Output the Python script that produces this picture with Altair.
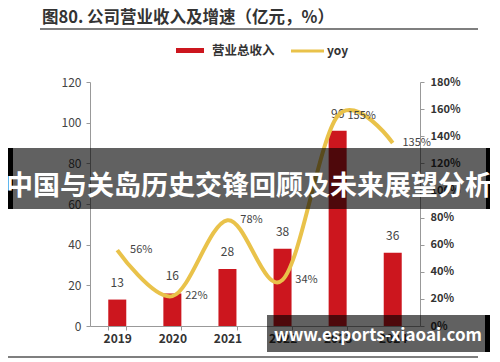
import altair as alt
import pandas as pd

years = ["2019", "2020", "2021", "2022", "2023", "2024"]
revenue = [13, 16, 28, 38, 96, 36]
yoy = [56, 22, 78, 34, 155, 135]

title_text = "图80. 公司营业收入及增速（亿元，%）"
legend_labels = ["营业总收入", "yoy"]
banner_text = "中国与关岛历史交锋回顾及未来展望分析"
watermark_text = "www.esports-xiaoai.com"

RED = "#cc161e"
YEL = "#e9c24a"
FONT = "Noto Sans CJK SC"

df = pd.DataFrame({"year": years, "rev": revenue, "yoy": yoy})
df["yoy_lbl"] = [f"{v}%" for v in yoy]

x_axis = alt.Axis(labelAngle=0, tickBand="extent", labelFont=FONT, labelFontSize=12,
                  labelFontWeight="bold", labelColor="#333", domainColor="#999",
                  tickColor="#999", tickSize=4, labelPadding=3)
x_scale = alt.Scale(paddingInner=0.67, paddingOuter=0.33)
left_axis = alt.Axis(values=[0, 20, 40, 60, 80, 100, 120], grid=False, orient="left",
                     labelFont=FONT, labelFontSize=12, labelColor="#444", labelOverlap=False,
                     domainColor="#999", tickColor="#999", tickSize=4, labelPadding=5)
right_axis = alt.Axis(values=[0, 20, 40, 60, 80, 100, 120, 140, 160, 180], grid=False,
                      orient="right", labelExpr="datum.value + '%'", labelFont=FONT,
                      labelFontSize=11, labelFontWeight="bold", labelColor="#333",
                      labelOverlap=False, domainColor="#999", tickColor="#999",
                      tickSize=4, labelPadding=6)
left_scale = alt.Scale(domain=[0, 120])
right_scale = alt.Scale(domain=[0, 180])

base = alt.Chart(df)
X = alt.X("year:N", title=None, scale=x_scale, axis=x_axis)
YL = alt.Y("rev:Q", title=None, scale=left_scale, axis=left_axis)
YR = alt.Y("yoy:Q", title=None, scale=right_scale, axis=right_axis)

bars = base.mark_bar(color=RED, width=18).encode(x=X, y=YL)
bar_text = base.mark_text(dy=-17, fontSize=12, font=FONT, color="#444").encode(
    x=X, y=YL, text="rev:Q")
left = alt.layer(bars, bar_text)

line = base.mark_line(color=YEL, strokeWidth=4, interpolate="cardinal").encode(x=X, y=YR)
line_text = base.mark_text(dx=24, fontSize=11, font=FONT, color="#444").encode(
    x=X, y=YR, text="yoy_lbl:N")
right = alt.layer(line, line_text)

one = alt.Data(values=[{"a": 1}])

def txt(t, x, y, size, color, weight="normal", align="left", font=FONT):
    return alt.Chart(one).mark_text(text=t, fontSize=size, color=color, fontWeight=weight,
                                    align=align, baseline="middle", font=font).encode(
        x=alt.value(x), y=alt.value(y))

def rect(x, x2, y, y2, color, opacity=1.0):
    return alt.Chart(one).mark_rect(color=color, opacity=opacity).encode(
        x=alt.value(x), x2=alt.value(x2), y=alt.value(y), y2=alt.value(y2))

def hline(x, x2, y, color, w):
    return alt.Chart(one).mark_rule(color=color, strokeWidth=w).encode(
        x=alt.value(x), x2=alt.value(x2), y=alt.value(y))

decor = [
    txt(title_text, -48, -64, 16.5, "#333", "bold"),
    hline(-50, 388, -53, "#555", 1.5),
    rect(86, 114, -34, -29, RED),
    txt(legend_labels[0], 122, -31, 12.5, "#333", "bold"),
    hline(201, 234, -31, YEL, 3),
    txt(legend_labels[1], 237, -31, 12, "#333", "bold"),
    hline(-82, 388, 275, "#555", 1.5),
    # banner overlay
    rect(-82, 400, 66, 127, "#000", 0.62),
    rect(-82, -77, 66, 127, "#000"),
    rect(396, 400, 66, 127, "#000"),
    txt(banner_text, 159, 105, 27, "#fff", "bold", "center"),
    # watermark overlay
    rect(177, 395, 233, 270, "#000", 0.62),
    rect(395, 400, 233, 270, "#000"),
    txt(watermark_text, 288, 254, 17, "#fff", "bold", "center"),
]

chart = alt.layer(left, right, *decor).resolve_scale(y="independent").properties(
    width=330, height=244,
    padding={"left": 82, "top": 74, "right": 72, "bottom": 36},
    autosize=alt.AutoSizeParams(type="none"),
).configure_view(stroke=None)

chart.save("out.html", embed_options={"renderer": "svg", "actions": False})
